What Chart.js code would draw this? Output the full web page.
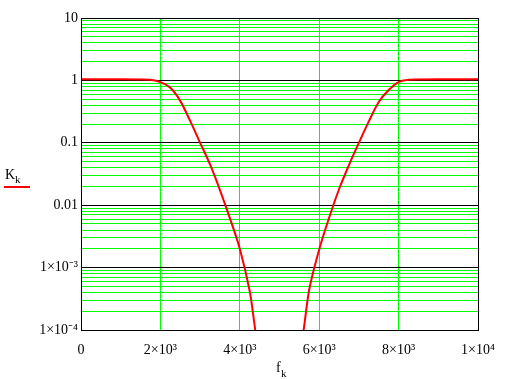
<!DOCTYPE html>
<html>
<head>
<meta charset="utf-8">
<script src="https://cdn.jsdelivr.net/npm/chart.js@4.4.1/dist/chart.umd.min.js"></script>
<style>
  html, body { margin: 0; padding: 0; background: #fff; }
  #wrap { width: 507px; height: 379px; }
</style>
</head>
<body>
<div id="wrap"><canvas id="c" width="507" height="379"></canvas></div>
<script>
// frequency f_k (Hz) and gain K_k
var freq = [0, 500, 1000, 1500, 1750, 2000, 2250, 2500, 2750, 3000, 3250, 3500, 3750, 4000, 4250, 4500,
            5500, 5750, 6000, 6250, 6500, 6750, 7000, 7250, 7500, 7750, 8000, 8250, 8500, 9000, 9500, 10000];
var gain = [1.04, 1.04, 1.04, 1.035, 1.02, 0.94, 0.76, 0.47, 0.224, 0.1, 0.045, 0.0175, 0.0062, 0.002, 0.00042, 0.00005,
            0.00005, 0.00045, 0.00195, 0.0063, 0.018, 0.044, 0.1, 0.22, 0.45, 0.7, 0.94, 1.02, 1.035, 1.04, 1.04, 1.04];

var xTicks = [0, 2000, 4000, 6000, 8000, 10000];
var xLabels = ["0", "2\u00d710\u00b3", "4\u00d710\u00b3", "6\u00d710\u00b3", "8\u00d710\u00b3", "1\u00d710\u2074"];
var yDecades = [1e-4, 1e-3, 0.01, 0.1, 1, 10];
var yLabels = ["1\u00d710\u207b\u2074", "1\u00d710\u207b\u00b3", "0.01", "0.1", "1", "10"];

var pts = freq.map(function (f, i) { return { x: f, y: gain[i] }; });

function isDecade(v) {
  var l = Math.log10(v);
  return Math.abs(l - Math.round(l)) < 1e-6;
}

// axis names with subscripts, plus the legend stroke under K_k
var axisNames = {
  id: "axisNames",
  afterDraw: function (chart) {
    var ctx = chart.ctx;
    ctx.save();
    ctx.fillStyle = "#000";
    ctx.textBaseline = "alphabetic";
    ctx.font = "14px 'Liberation Serif'";
    ctx.fillText("K", 5, 179);
    ctx.fillText("f", 276, 372);
    ctx.font = "11px 'Liberation Serif'";
    ctx.fillText("k", 15, 183);
    ctx.fillText("k", 281, 377);
    ctx.strokeStyle = "#ff0000";
    ctx.lineWidth = 2;
    ctx.beginPath();
    ctx.moveTo(4, 187);
    ctx.lineTo(30, 187);
    ctx.stroke();
    ctx.restore();
  }
};

new Chart(document.getElementById("c"), {
  type: "line",
  data: {
    datasets: [{
      data: pts,
      borderColor: "#ff0000",
      borderWidth: 2,
      pointRadius: 0,
      fill: false,
      cubicInterpolationMode: "monotone"
    }]
  },
  options: {
    responsive: false,
    animation: false,
    layout: { padding: { top: 18, right: 29, left: 0, bottom: 0 } },
    plugins: { legend: { display: false }, tooltip: { enabled: false } },
    scales: {
      x: {
        type: "linear",
        min: 0,
        max: 10000,
        afterBuildTicks: function (s) { s.ticks = xTicks.map(function (v) { return { value: v }; }); },
        afterFit: function (s) { s.height = 49; },
        ticks: {
          padding: 12,
          color: "#000",
          font: { family: "'Liberation Serif'", size: 14 },
          maxRotation: 0,
          callback: function (v) { var i = xTicks.indexOf(v); return i < 0 ? "" : xLabels[i]; }
        },
        grid: {
          drawTicks: false,
          color: function (c) { return (c.tick && (c.tick.value === 0 || c.tick.value === 10000)) ? "#000" : "#00ff00"; }
        },
        border: { color: "#000", width: 1 }
      },
      y: {
        type: "logarithmic",
        min: 1e-4,
        max: 10,
        afterBuildTicks: function (s) {
          var t = [];
          for (var e = -4; e <= 0; e++) {
            for (var m = 1; m <= 9; m++) t.push({ value: m * Math.pow(10, e) });
          }
          t.push({ value: 10 });
          s.ticks = t;
        },
        afterFit: function (s) { s.width = 81; },
        ticks: {
          padding: 3,
          color: "#000",
          autoSkip: false,
          font: { family: "'Liberation Serif'", size: 14 },
          callback: function (v) {
            for (var i = 0; i < yDecades.length; i++) {
              if (Math.abs(v / yDecades[i] - 1) < 1e-6) return yLabels[i];
            }
            return "";
          }
        },
        grid: {
          drawTicks: false,
          color: function (c) { return (c.tick && isDecade(c.tick.value)) ? "#000" : "#00ff00"; }
        },
        border: { color: "#000", width: 1 }
      }
    }
  },
  plugins: [axisNames, {
    id: "frame",
    afterDraw: function (chart) {
      var a = chart.chartArea, ctx = chart.ctx;
      ctx.save();
      ctx.strokeStyle = "#000";
      ctx.lineWidth = 1;
      ctx.strokeRect(Math.round(a.left) + 0.5, Math.round(a.top) + 0.5, Math.round(a.right - a.left), Math.round(a.bottom - a.top));
      ctx.restore();
    }
  }]
});
</script>
</body>
</html>
